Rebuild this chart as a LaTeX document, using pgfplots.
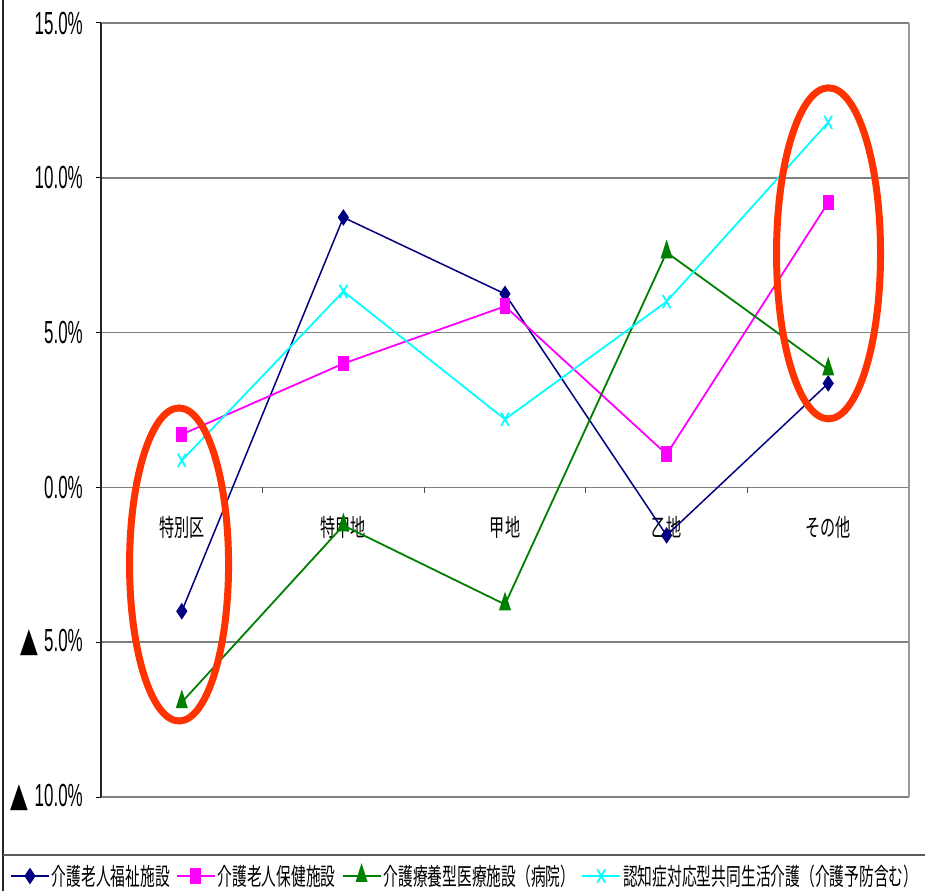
\documentclass[border=0pt]{standalone}
\usepackage{pgfplots}
\pgfplotsset{compat=1.18}
\usepackage{fontspec}
\setmainfont{Liberation Sans}
\newfontfamily\numfont{Liberation Sans}[FakeStretch=0.53]
\newfontfamily\cjk{Noto Sans CJK JP}[FakeStretch=0.63]
\newfontfamily\cjkleg{Noto Sans CJK JP}[FakeStretch=0.615]
\newfontfamily\trifont{DejaVu Sans}[FakeStretch=0.68]
\definecolor{cnavy}{HTML}{000080}
\definecolor{cmag}{HTML}{FF00FF}
\definecolor{cgreen}{HTML}{008000}
\definecolor{ccyan}{HTML}{00FFFF}
\definecolor{cred}{HTML}{FF3300}
\definecolor{cgrid}{HTML}{808080}
\newcommand{\tri}{{\trifont\fontsize{34}{34}\selectfont ▲}}
\begin{document}
\begin{tikzpicture}
\useasboundingbox (0,0) rectangle (925pt,891pt);
\fill[white] (0,0) rectangle (925pt,891pt);
\draw[black!85, line width=1.8pt] (3pt,0pt) -- (3pt,891pt);
\draw[black!65, line width=1.8pt] (3pt,36pt) -- (925pt,36pt);
\begin{axis}[
  scale only axis,
  width=808pt, height=774pt,
  at={(101pt,94pt)}, anchor=south west,
  xmin=0, xmax=5, ymin=-10, ymax=15,
  axis line style={draw=none},
  ytick={-10,-5,0,5,10,15},
  yticklabels={{\tri\hspace{6pt}10.0\%},{\tri\hspace{6pt}5.0\%},0.0\%,5.0\%,10.0\%,15.0\%},
  yticklabel style={font=\numfont\fontsize{32}{32}\selectfont, anchor=east, inner sep=0pt, xshift=-13pt},
  ymajorgrids,
  grid style={cgrid, line width=1.6pt},
  ytick pos=left,
  ytick style={black, line width=1pt},
  tick align=outside,
  major tick length=5pt,
  xtick={0.5,1.5,2.5,3.5,4.5},
  xticklabels={特別区,特甲地,甲地,乙地,その他},
  xtick style={draw=none},
  xticklabel style={font=\cjk\fontsize{24}{24}\selectfont, anchor=center, yshift=275pt},
  legend columns=4,
  legend style={draw=none, fill=none, at={(-0.1126,-0.1021)}, anchor=west,
    font=\cjkleg\fontsize{24}{24}\selectfont, inner sep=0pt,
    nodes={inner xsep=2pt, inner ysep=0pt},
    /tikz/every even column/.append style={column sep=4pt}},
  legend image code/.code={\draw[mark repeat=2,mark phase=2] plot coordinates {(0pt,0pt) (19pt,0pt) (38pt,0pt)};},
  clip=false,
]
\addplot[cnavy, line width=1.5pt, mark=diamond*, mark size=7pt, mark options={solid, xscale=0.9}]
  coordinates {(0.5,-4.0) (1.5,8.72) (2.5,6.25) (3.5,-1.55) (4.5,3.36)};
\addlegendentry{介護老人福祉施設}
\addplot[cmag, line width=1.8pt, mark=square*, mark size=4.5pt, mark options={solid, yscale=1.55}]
  coordinates {(0.5,1.71) (1.5,4.0) (2.5,5.85) (3.5,1.07) (4.5,9.2)};
\addlegendentry{介護老人保健施設}
\addplot[cgreen, line width=1.8pt, mark=triangle*, mark size=5.5pt, mark options={solid, yscale=1.8}]
  coordinates {(0.5,-6.94) (1.5,-1.23) (2.5,-3.78) (3.5,7.59) (4.5,3.81)};
\addlegendentry{介護療養型医療施設（病院）}
\addplot[ccyan, line width=1.8pt, mark=x, mark size=5.5pt, mark options={solid, yscale=1.7, line width=1.8pt}]
  coordinates {(0.5,0.87) (1.5,6.33) (2.5,2.2) (3.5,6.0) (4.5,11.79)};
\addlegendentry{認知症対応型共同生活介護（介護予防含む）}
\draw[black!85, line width=1.8pt] (rel axis cs:0,0) -- (rel axis cs:0,1);
\draw[cgrid!80, line width=1.6pt] (rel axis cs:1,0) -- (rel axis cs:1,1);
\pgfplotsinvokeforeach{1,2,3,4}{ \draw[black!70, line width=1pt] (axis cs:#1,0) -- ++(0pt,-6pt); }
\draw[cred, line width=7pt] (axis cs:0.483,-2.49) ellipse [x radius=49.5pt, y radius=156.5pt];
\draw[cred, line width=7pt] (axis cs:4.502,7.56) ellipse [x radius=52pt, y radius=165.5pt];
\end{axis}
\end{tikzpicture}
\end{document}
